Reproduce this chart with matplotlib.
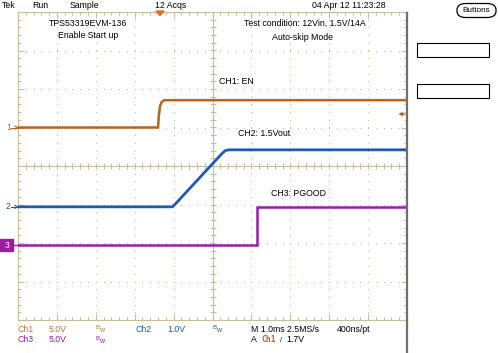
import matplotlib
matplotlib.use("Agg")
import matplotlib.pyplot as plt
from matplotlib.patches import Rectangle, FancyBboxPatch
import numpy as np

# ---- data (time in divisions of 1.0 ms, level in divisions from bottom) ----
ch1_t = [0.0, 3.60, 3.62, 3.65, 3.69, 3.76, 10.0]
ch1_v = [5.00, 5.00, 5.30, 5.55, 5.66, 5.71, 5.71]
ch2_t = [0.0, 3.97, 4.05, 5.25, 5.33, 5.42, 10.0]
ch2_v = [2.94, 2.94, 3.02, 4.33, 4.40, 4.42, 4.42]
ch3_t = [0.0, 6.14, 6.14, 10.0]
ch3_v = [1.94, 1.94, 2.93, 2.93]
ch_ref = [5.00, 2.94, 1.94]          # channel ground markers
trig_level = 5.35                     # trigger level marker (ch1)
trig_pos = 3.65                       # trigger position

C1 = "#b8651b"
C2 = "#1a5cb8"
C3 = "#9c1ca4"
GRID = "#c8bd9f"

W, H = 498, 353
fig = plt.figure(figsize=(W / 100, H / 100), dpi=100)
fig.patch.set_facecolor("white")
plt.rcParams["font.family"] = ["Liberation Sans", "DejaVu Sans"]

L, T, R, B = 18, 12, 407, 320
ax = fig.add_axes([L / W, 1 - B / H, (R - L) / W, (B - T) / H])
ax.set_xlim(0, 10)
ax.set_ylim(0, 8)
ax.set_facecolor("white")

# graticule: dotted grid
for gx in range(1, 10):
    if gx == 5:
        continue
    ys = np.arange(0.2, 8, 0.2)
    ax.plot(np.full_like(ys, gx), ys, ls="none", marker="s", ms=0.8, color=GRID, mew=0)
for gy in range(1, 8):
    if gy == 4:
        continue
    xs = np.arange(0.2, 10, 0.2)
    ax.plot(xs, np.full_like(xs, gy), ls="none", marker="s", ms=0.8, color=GRID, mew=0)

# centre crosshair with ticks
ax.axhline(4, color=GRID, lw=0.8)
ax.axvline(5, color=GRID, lw=0.8)
xs = np.arange(0.2, 10, 0.2)
ys = np.arange(0.2, 8, 0.2)
ax.plot(xs, np.full_like(xs, 4), ls="none", marker="|", ms=5, mew=0.8, color=GRID)
ax.plot(np.full_like(ys, 5), ys, ls="none", marker="_", ms=5, mew=0.8, color=GRID)

# edge ticks
ax.set_xticks(np.arange(0, 10.01, 1))
ax.set_yticks(np.arange(0, 8.01, 1))
ax.set_xticks(np.arange(0, 10.01, 0.2), minor=True)
ax.set_yticks(np.arange(0, 8.01, 0.2), minor=True)
ax.tick_params(which="both", direction="in", top=True, right=True,
               labelbottom=False, labelleft=False, color=GRID, width=0.8)
ax.tick_params(which="major", length=4)
ax.tick_params(which="minor", length=2.5)
for s in ["left", "top", "bottom"]:
    ax.spines[s].set_color(GRID)
    ax.spines[s].set_linewidth(0.8)
ax.spines["right"].set_visible(False)

# traces
ax.plot(ch1_t, ch1_v, color=C1, lw=1.8, solid_joinstyle="round", zorder=5)
ax.plot(ch2_t, ch2_v, color=C2, lw=2.0, solid_joinstyle="round", zorder=5)
ax.plot(ch3_t, ch3_v, color=C3, lw=1.8, solid_joinstyle="miter", zorder=5)

# trigger level arrow (right edge)
ax.annotate("", xy=(9.78, trig_level), xytext=(9.95, trig_level),
            arrowprops=dict(arrowstyle="-|>", color=C1, lw=0.9, mutation_scale=5,
                            shrinkA=0, shrinkB=0),
            annotation_clip=False)

# dark grey right frame line
fig.add_artist(plt.Line2D([R / W, R / W], [0, 1 - 13 / H], color="#707070", lw=1.6))

def px(x, y):
    return x / W, 1 - y / H

fs = 6.3
def txt(x, y, s, color="black", ha="left", size=fs, **kw):
    fig.text(*px(x, y), s, color=color, ha=ha, va="center", fontsize=size, **kw)

# channel ground markers on the left
axp = lambda v: B - v / 8 * (B - T)
for lab, v, c in [("1", ch_ref[0], C1), ("2", ch_ref[1], C2)]:
    y = axp(v)
    txt(6, y, lab, color=c)
    fig.add_artist(plt.Line2D([11 / W, 17 / W], [1 - y / H] * 2, color=c, lw=0.8))
    fig.add_artist(plt.Line2D([15 / W, 17.5 / W, 15 / W],
                              [1 - (y - 1.5) / H, 1 - y / H, 1 - (y + 1.5) / H], color=c, lw=0.8))
y3 = axp(ch_ref[2])
fig.add_artist(Rectangle(px(0, y3 + 6), 13 / W, 12 / H, color=C3, transform=fig.transFigure))
txt(5, y3, "3", color="white")
fig.add_artist(plt.Line2D([13 / W, 17.5 / W], [1 - y3 / H] * 2, color=C3, lw=1))

# trigger position marker (top)
tx = L + trig_pos / 10 * (R - L)
fig.add_artist(plt.Polygon([px(tx - 4, 11), px(tx + 4, 11), px(tx, 15.5)],
                           closed=True, color="#e0702a", transform=fig.transFigure))

# top status bar
txt(2, 5, "Tek")
txt(32, 5, "Run")
txt(70, 5, "Sample")
txt(155, 5, "12 Acqs")
txt(312, 5, "04 Apr 12 11:23:28")

# buttons & side boxes
fig.add_artist(FancyBboxPatch(px(457, 17.5), 39 / W, 14 / H,
                              boxstyle="round,pad=0,rounding_size=0.018",
                              fc="white", ec="black", lw=0.9, transform=fig.transFigure))
txt(476.5, 10.5, "Buttons", ha="center", size=5.9)
for y0 in (43, 84):
    fig.add_artist(Rectangle(px(417, y0 + 14), 72 / W, 14 / H, fc="white", ec="black",
                             lw=0.8, transform=fig.transFigure))

# annotations inside graticule
txt(88, 23, "TPS53319EVM-136", ha="center")
txt(88, 36, "Enable Start up", ha="center")
txt(305, 23, "Test condition: 12Vin, 1.5V/14A", ha="center")
txt(302, 38, "Auto-skip Mode", ha="center")
txt(219, 82, "CH1: EN")
txt(238, 133, "CH2: 1.5Vout")
txt(271, 193, "CH3: PGOOD")

# bottom status
CT1 = "#b87a30"
txt(18, 329, "Ch1", color=CT1)
txt(49, 329, "5.0V", color=CT1)
txt(95, 327.5, "B", color=CT1, size=4.5)
txt(99, 330.5, "w", color=CT1, size=5)
txt(135, 329, "Ch2", color=C2)
txt(167, 329, "1.0V", color=C2)
txt(212, 327.5, "B", color=C2, size=4.5)
txt(216, 330.5, "w", color=C2, size=5)
txt(18, 340, "Ch3", color=C3)
txt(49, 340, "5.0V", color=C3)
txt(95, 338.5, "B", color=C3, size=4.5)
txt(99, 341.5, "w", color=C3, size=5)
txt(251, 329, "M 1.0ms 2.5MS/s")
txt(337, 329, "400ns/pt")
txt(251, 340, "A")
txt(261, 340, "Ch1", color=C1, family=["DejaVu Sans Mono", "DejaVu Sans"], size=5.8,
    fontweight="bold")
txt(280, 340, "/", size=5)
txt(286, 340, "1.7V")

fig.savefig("out.png", dpi=100, facecolor="white")
